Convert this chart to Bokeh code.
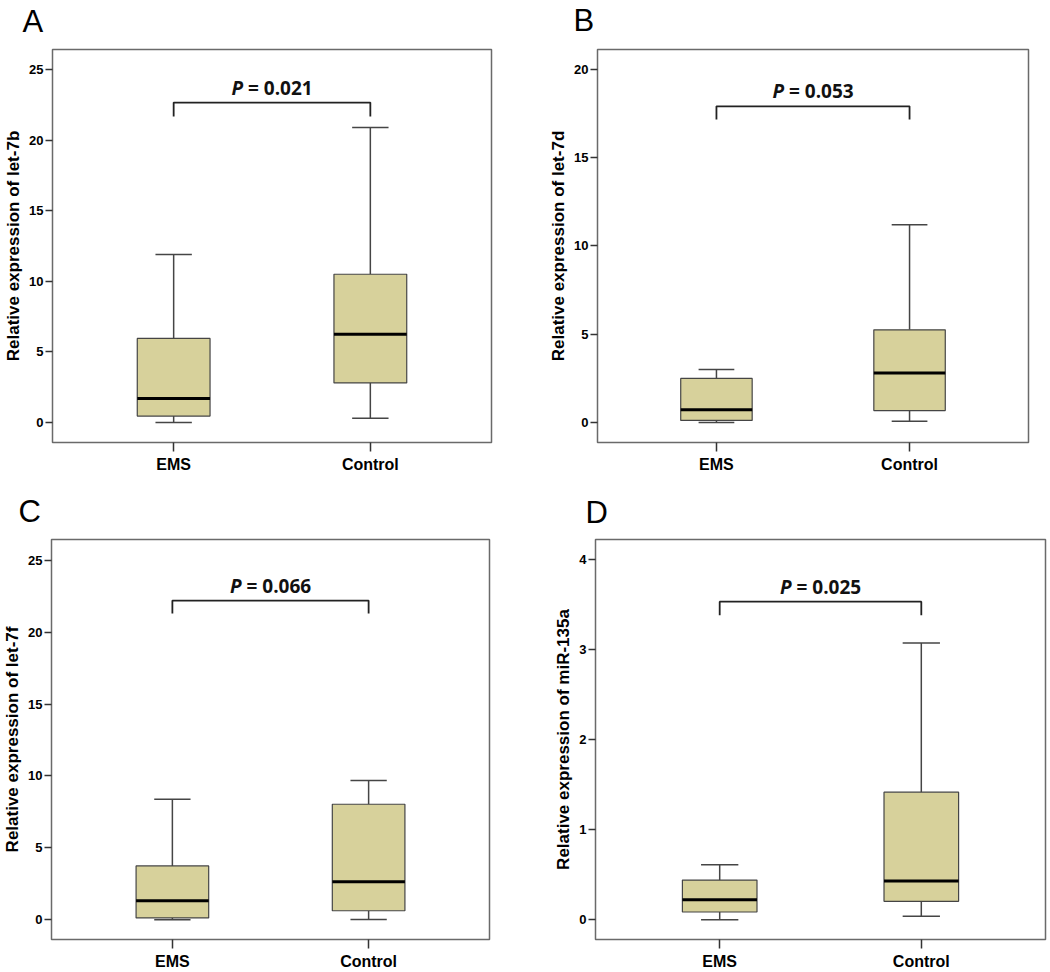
from bokeh.plotting import figure
from bokeh.layouts import row, column
from bokeh.models import FixedTicker, Range1d
from bokeh.embed import file_html
from bokeh.resources import INLINE
from bokeh.core.properties import value

# ---------------- data ----------------
groups = ["EMS", "Control"]
panel_letters = ["A", "B", "C", "D"]
genes = ["let-7b", "let-7d", "let-7f", "miR-135a"]
p_values = ["0.021", "0.053", "0.066", "0.025"]

whisker_low = [[0.0, 0.3], [0.0, 0.08], [0.0, 0.02], [0.0, 0.037]]
quartile_1 = [[0.45, 2.8], [0.12, 0.68], [0.12, 0.62], [0.085, 0.204]]
medians = [[1.7, 6.25], [0.72, 2.8], [1.32, 2.63], [0.22, 0.43]]
quartile_3 = [[5.95, 10.5], [2.5, 5.25], [3.74, 8.03], [0.44, 1.415]]
whisker_high = [[11.9, 20.9], [3.0, 11.2], [8.38, 9.68], [0.61, 3.07]]

y_tick_values = [[0, 5, 10, 15, 20, 25], [0, 5, 10, 15, 20],
                 [0, 5, 10, 15, 20, 25], [0, 1, 2, 3, 4]]

# ---------------- layout / style ----------------
y_limits = [(-1.42, 26.42), (-1.13, 21.12), (-1.38, 26.45), (-0.22, 4.22)]
bracket_top = [22.66, 17.9, 22.2, 3.53]
bracket_leg = [21.67, 17.15, 21.3, 3.38]

PAGE_W = 1050
letter_strip_h = [40, 44]                 # heights of the letter strips (px)
letter_x = [22, 573, 18, 585]             # pixel positions in the strips
letter_y = [19, 20, 19, 18]               # anchor height above strip bottom

fig_sizes = [(525, 446), (525, 446), (525, 442), (525, 442)]
borders = [  # left, right, top, bottom
    (52, 34, 9, 44),
    (72, 22, 9, 44),
    (47, 36, 8, 33),
    (70, 5, 9, 33),
]

BOX_FILL = "#D7D19B"
BOX_LINE = "#454545"
FRAME = "#6a6a6a"
BOX_W = 0.37
FONT = "Liberation Sans"


def letter_strip(r):
    h = letter_strip_h[r]
    s = figure(width=PAGE_W, height=h, output_backend="svg",
               toolbar_location=None, x_range=Range1d(0, PAGE_W),
               y_range=Range1d(0, h), x_axis_type=None, y_axis_type=None,
               min_border=0)
    s.outline_line_color = None
    s.background_fill_color = "white"
    s.border_fill_color = "white"
    s.xgrid.visible = False
    s.ygrid.visible = False
    idx = [2 * r, 2 * r + 1]
    s.text(x=[letter_x[k] for k in idx], y=[letter_y[k] for k in idx],
           text=[panel_letters[k] for k in idx],
           text_font=value("Liberation Sans"), text_font_size="31px",
           text_align="left", text_baseline="alphabetic", text_color="black")
    return s


def make_panel(i):
    w, h = fig_sizes[i]
    bl, br, bt, bb = borders[i]
    p = figure(width=w, height=h, output_backend="svg", toolbar_location=None,
               x_range=Range1d(0.384, 2.616),
               y_range=Range1d(*y_limits[i]),
               min_border_left=bl, min_border_right=br,
               min_border_top=bt, min_border_bottom=bb)
    p.background_fill_color = "white"
    p.border_fill_color = "white"
    p.outline_line_color = FRAME
    p.outline_line_width = 1.5
    p.xgrid.visible = False
    p.ygrid.visible = False

    xs = [k + 1 for k in range(len(groups))]

    # whiskers
    p.segment(x0=xs, y0=quartile_3[i], x1=xs, y1=whisker_high[i],
              line_color=BOX_LINE, line_width=1.5)
    p.segment(x0=xs, y0=quartile_1[i], x1=xs, y1=whisker_low[i],
              line_color=BOX_LINE, line_width=1.5)
    p.segment(x0=[x - BOX_W / 4 for x in xs], y0=whisker_high[i],
              x1=[x + BOX_W / 4 for x in xs], y1=whisker_high[i],
              line_color=BOX_LINE, line_width=1.5)
    p.segment(x0=[x - BOX_W / 4 for x in xs], y0=whisker_low[i],
              x1=[x + BOX_W / 4 for x in xs], y1=whisker_low[i],
              line_color=BOX_LINE, line_width=1.5)
    # boxes
    p.vbar(x=xs, width=BOX_W, bottom=quartile_1[i], top=quartile_3[i],
           fill_color=BOX_FILL, line_color=BOX_LINE, line_width=1.2)
    # medians
    p.segment(x0=[x - BOX_W / 2 for x in xs], y0=medians[i],
              x1=[x + BOX_W / 2 for x in xs], y1=medians[i],
              line_color="black", line_width=3)

    # significance bracket
    p.line(x=[xs[0], xs[0], xs[1], xs[1]],
           y=[bracket_leg[i], bracket_top[i], bracket_top[i], bracket_leg[i]],
           line_color="#222222", line_width=1.8)
    cx = (xs[0] + xs[1]) / 2
    p.text(x=[cx], y=[bracket_top[i]], text=["P"], x_offset=-29, y_offset=-15,
           text_font=value("Open Sans"), text_font_size="19px",
           text_font_style="bold italic", text_align="right",
           text_baseline="middle", text_color="#111111")
    p.text(x=[cx], y=[bracket_top[i]], text=["= " + p_values[i]],
           x_offset=-24, y_offset=-15,
           text_font=value("Open Sans"), text_font_size="19px",
           text_font_style="bold", text_align="left",
           text_baseline="middle", text_color="#111111")

    # axes
    p.xaxis.ticker = FixedTicker(ticks=xs)
    p.xaxis.major_label_overrides = {x: g for x, g in zip(xs, groups)}
    p.xaxis.major_label_text_font = FONT
    p.xaxis.major_label_text_font_style = "bold"
    p.xaxis.major_label_text_font_size = "16px"
    p.xaxis.major_label_text_color = "black"
    p.xaxis.major_tick_out = 9
    p.xaxis.major_tick_in = 0
    p.xaxis.minor_tick_line_color = None
    p.xaxis.axis_line_color = None
    p.xaxis.major_tick_line_color = "#333333"
    p.xaxis.major_tick_line_width = 1.5
    p.xaxis.major_label_standoff = 4

    p.yaxis.ticker = FixedTicker(ticks=y_tick_values[i])
    p.yaxis.major_label_text_font = FONT
    p.yaxis.major_label_text_font_style = "bold"
    p.yaxis.major_label_text_font_size = "13px"
    p.yaxis.major_label_text_color = "black"
    p.yaxis.major_tick_out = 7
    p.yaxis.major_tick_in = 0
    p.yaxis.minor_tick_line_color = None
    p.yaxis.axis_line_color = None
    p.yaxis.major_tick_line_color = "#333333"
    p.yaxis.major_tick_line_width = 1.5
    p.yaxis.major_label_standoff = 2
    p.yaxis.axis_label = "Relative expression of " + genes[i]
    p.yaxis.axis_label_text_font = FONT
    p.yaxis.axis_label_text_font_style = "bold"
    p.yaxis.axis_label_text_font_size = "17px"
    p.yaxis.axis_label_text_color = "black"
    p.yaxis.axis_label_standoff = 3
    return p


panels = [make_panel(i) for i in range(4)]
layout = column(letter_strip(0), row(panels[0], panels[1]),
                letter_strip(1), row(panels[2], panels[3]))

with open("out.html", "w") as f:
    f.write(file_html(layout, INLINE))
